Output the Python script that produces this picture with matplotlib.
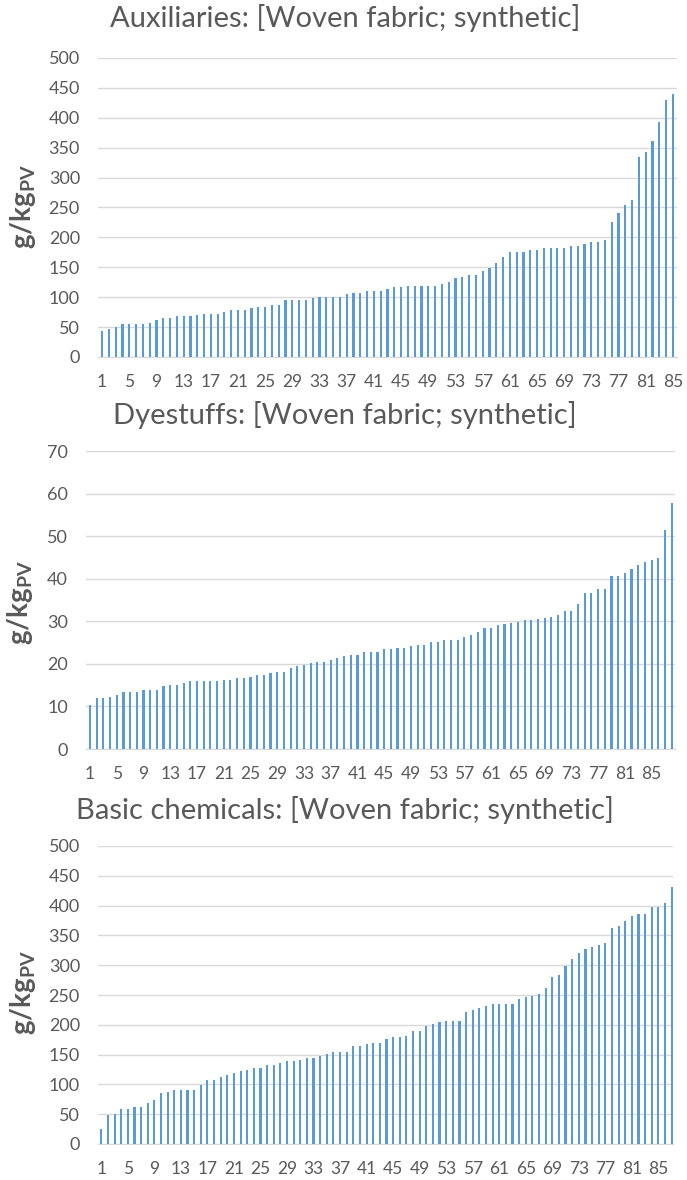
import matplotlib
matplotlib.use("Agg")
import matplotlib.pyplot as plt
import numpy as np

plt.rcParams['font.family'] = ['Lato', 'DejaVu Sans']

# Auxiliaries, g/kg_PV (85 sorted processes)
aux = [43, 46, 51, 55, 55, 55, 55, 57, 62, 65, 66, 69, 69, 69, 70, 72, 72, 72, 75, 78,
       78, 78, 82, 84, 84, 87, 87, 96, 96, 96, 96, 98, 101, 101, 101, 101, 105, 107, 107, 111,
       111, 111, 114, 117, 117, 119, 119, 119, 119, 119, 122, 125, 132, 134, 137, 137, 143, 148, 157, 168,
       176, 176, 176, 179, 179, 182, 183, 183, 183, 186, 186, 189, 192, 192, 196, 226, 240, 254, 262, 334,
       343, 362, 393, 429, 440]

# Dyestuffs, g/kg_PV (88 sorted processes)
dye = [10.4, 12.0, 12.0, 12.3, 12.7, 13.5, 13.5, 13.5, 13.9, 13.9, 13.9, 14.7, 15.1, 15.1, 15.5, 15.9,
       15.9, 15.9, 15.9, 15.9, 16.3, 16.3, 16.6, 16.6, 17.0, 17.4, 17.4, 17.8, 18.2, 18.2, 19.0, 19.5,
       19.8, 20.2, 20.4, 20.5, 20.8, 21.3, 21.9, 22.1, 22.1, 22.9, 22.9, 22.9, 23.4, 23.4, 23.7, 23.7,
       24.1, 24.5, 24.5, 25.2, 25.2, 25.6, 25.6, 25.6, 26.4, 26.8, 27.6, 28.4, 28.4, 29.1, 29.4, 29.5,
       29.9, 30.2, 30.3, 30.5, 30.7, 30.9, 31.5, 32.5, 32.5, 34.1, 36.7, 36.7, 37.5, 37.5, 40.6, 40.6,
       41.4, 42.3, 43.2, 44.0, 44.4, 44.8, 51.4, 57.8]

# Basic chemicals, g/kg_PV (87 sorted processes)
basic = [26, 48, 51, 59, 59, 62, 62, 69, 73, 85, 88, 91, 91, 91, 91, 99, 108, 108, 113, 116,
         119, 122, 125, 127, 127, 133, 133, 136, 139, 139, 141, 144, 144, 148, 151, 155, 155, 155, 165, 165,
         168, 170, 170, 176, 179, 179, 182, 190, 190, 198, 201, 204, 207, 207, 207, 221, 225, 228, 231, 235,
         235, 235, 235, 243, 247, 249, 252, 261, 280, 283, 299, 311, 320, 328, 331, 334, 338, 362, 366, 374,
         383, 386, 386, 397, 397, 405, 431]

titles = ["Auxiliaries: [Woven fabric; synthetic]",
          "Dyestuffs: [Woven fabric; synthetic]",
          "Basic chemicals: [Woven fabric; synthetic]"]

W, H = 687, 1180
fig = plt.figure(figsize=(W / 100, H / 100), dpi=100)

# panel boxes in pixels: left, right, top, bottom
boxes = [(98, 677, 58, 357), (86, 675, 451, 749), (98, 673, 846, 1144)]
ylims = [(0, 500, 50), (0, 70, 10), (0, 500, 50)]
xlims = [(0.4, 85.6), (0.4, 88.5), (0.5, 87.2)]
ylab_x = [23, 20, 23]
ylab_y = [206, 602, 992]
title_y = [18, 415, 810]
series = [aux, dye, basic]

bar_color = '#5B9BD5'
txt_color = '#595959'

for vals, title, box, yl, xl, lx, ly, ty in zip(series, titles, boxes, ylims, xlims,
                                                 ylab_x, ylab_y, title_y):
    l, r, t, b = box
    ax = fig.add_axes([l / W, 1 - b / H, (r - l) / W, (b - t) / H])
    x = np.arange(1, len(vals) + 1)
    ax.bar(x, vals, width=0.32, color=bar_color, zorder=3)
    ax.set_xlim(*xl)
    ax.set_ylim(yl[0], yl[1])
    ax.set_yticks(np.arange(yl[0], yl[1] + 1, yl[2]))
    ax.set_xticks(np.arange(1, 86, 4))
    ax.grid(axis='y', color='#D9D9D9', linewidth=1.0, zorder=0)
    for s in ['top', 'right', 'left']:
        ax.spines[s].set_visible(False)
    ax.spines['bottom'].set_color('#D9D9D9')
    ax.tick_params(axis='both', length=0, labelcolor=txt_color)
    ax.tick_params(axis='y', pad=13, labelsize=13)
    ax.tick_params(axis='x', pad=12, labelsize=12.5)
    fig.text(345 / W, 1 - ty / H, title, ha='center', va='center', fontsize=21, color=txt_color)
    fig.text(lx / W, 1 - ly / H, r'g/kg$_\mathregular{PV}$', rotation=90,
             ha='center', va='center', fontsize=20, color=txt_color, fontweight='bold')

fig.savefig('out.png', dpi=100)
